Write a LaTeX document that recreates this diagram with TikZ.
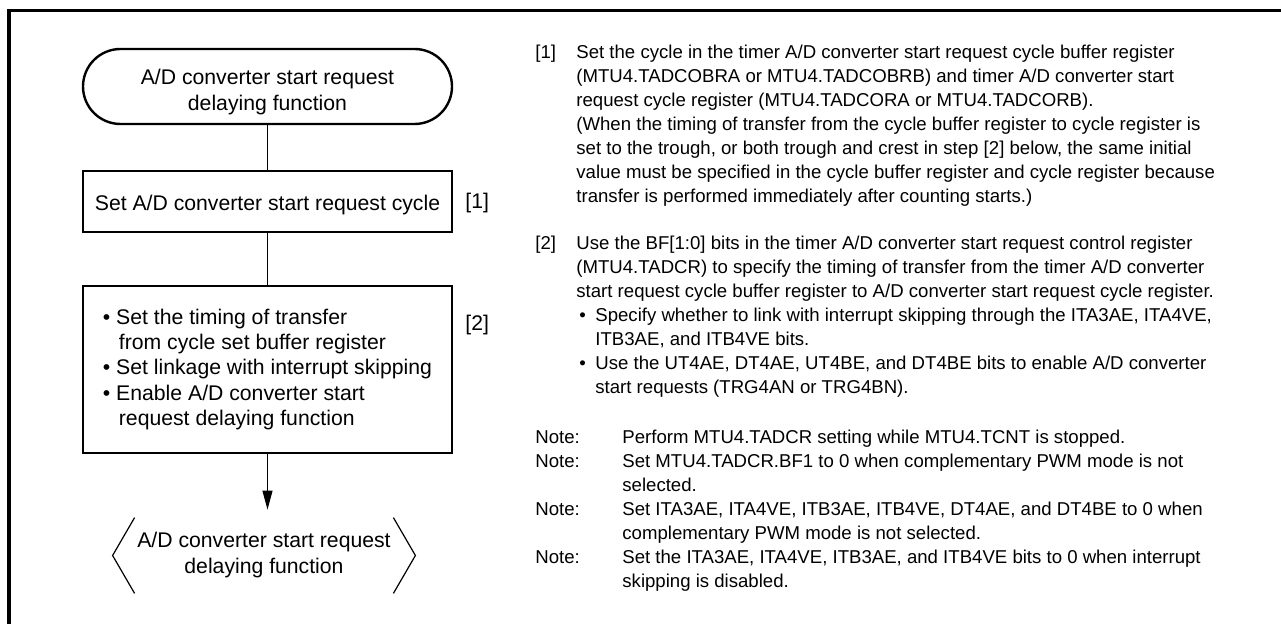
\documentclass[tikz,border=0pt]{standalone}
\usepackage{fontspec}
\setmainfont{Liberation Sans}
\usetikzlibrary{shapes.misc,arrows.meta}
\tikzset{
  x=0.5pt, y=-0.5pt,
  frame/.style={line width=1.6pt},
  term/.style={rounded rectangle, draw, line width=1.2pt, minimum width=184.5pt, minimum height=37.5pt, inner sep=0pt, align=center, font=\fontsize{10.6}{13}\selectfont},
  proc/.style={rectangle, draw, line width=1.2pt, minimum width=184.5pt, inner sep=0pt, font=\fontsize{10.6}{12.7}\selectfont},
  conn/.style={line width=0.6pt},
  arr/.style={conn, -{Triangle[length=9.5pt,width=5pt]}},
  brk/.style={line width=0.6pt},
  txt/.style={anchor=base west, inner sep=0pt, font=\fontsize{9.3}{12}\selectfont},
  ltxt/.style={anchor=base west, inner sep=0pt, font=\fontsize{10.6}{13}\selectfont},
}
\begin{document}
\begin{tikzpicture}
\useasboundingbox (0,0) rectangle (1281,624);
\clip (0,0) rectangle (1281,624);
\fill[white] (0,0) rectangle (1281,624);
\draw[frame] (9,640) -- (9,10.5) -- (1300,10.5);

% flowchart
\node[term] (start) at (267.5,86.5) {\rule{0pt}{13pt}A/D converter start request\\delaying function};
\node[proc, minimum height=30.5pt, text height=10pt, text depth=0.8pt] (box1) at (267.5,201.5) {Set A/D converter start request cycle};
\node[proc, minimum height=83.5pt, align=left] (box2) at (267.5,369.5) {%
• Set the timing of transfer\\
\hspace*{8pt}from cycle set buffer register\\
• Set linkage with interrupt skipping\hspace*{3.5pt}\\
• Enable A/D converter start\\
\hspace*{8pt}request delaying function};
\node[minimum width=129pt, minimum height=37.5pt, inner sep=0pt, align=center, font=\fontsize{10.6}{13}\selectfont] (end) at (264,555.5) {A/D converter start request\\delaying function};
\draw[brk] (end.north west) -- ([xshift=-11pt]end.west) -- (end.south west);
\draw[brk] (end.north east) -- ([xshift=11pt]end.east) -- (end.south east);

\draw[conn] (start.south) -- (box1.north);
\draw[conn] (box1.south) -- (box2.north);
\draw[arr, shorten >=4pt] (box2.south) -- (box2.south |- end.north);

\node[ltxt] (l1) at (465,208.6) {[1]};
\node[ltxt] (l2) at (465,330.6) {[2]};

% right text
\node[txt] (k1) at (535,59) {[1]};
\node[txt] (r1) at (576,59) {Set the cycle in the timer A/D converter start request cycle buffer register};
\node[txt] (r2) at (576,83) {(MTU4.TADCOBRA or MTU4.TADCOBRB) and timer A/D converter start};
\node[txt] (r3) at (576,107) {request cycle register (MTU4.TADCORA or MTU4.TADCORB).};
\node[txt] (r4) at (576,131) {(When the timing of transfer from the cycle buffer register to cycle register is};
\node[txt] (r5) at (576,155) {set to the trough, or both trough and crest in step [2] below, the same initial};
\node[txt] (r6) at (576,179) {value must be specified in the cycle buffer register and cycle register because};
\node[txt] (r7) at (576,203) {transfer is performed immediately after counting starts.)};

\node[txt] (k2) at (535,250) {[2]};
\node[txt] (s1) at (576,250) {Use the BF[1:0] bits in the timer A/D converter start request control register};
\node[txt] (s2) at (576,274) {(MTU4.TADCR) to specify the timing of transfer from the timer A/D converter};
\node[txt] (s3) at (576,298) {start request cycle buffer register to A/D converter start request cycle register.};
\node[txt] (s4) at (579,322) {\makebox[8pt][l]{•}Specify whether to link with interrupt skipping through the ITA3AE, ITA4VE,};
\node[txt] (s5) at (595,346) {ITB3AE, and ITB4VE bits.};
\node[txt] (s6) at (579,370) {\makebox[8pt][l]{•}Use the UT4AE, DT4AE, UT4BE, and DT4BE bits to enable A/D converter};
\node[txt] (s7) at (595,394) {start requests (TRG4AN or TRG4BN).};

\node[txt] (nl1) at (535,444) {Note:};
\node[txt] (n1) at (622,444) {Perform MTU4.TADCR setting while MTU4.TCNT is stopped.};
\node[txt] (nl2) at (535,468) {Note:};
\node[txt] (n2) at (622,468) {Set MTU4.TADCR.BF1 to 0 when complementary PWM mode is not};
\node[txt] (n3) at (622,492) {selected.};
\node[txt] (nl3) at (535,516) {Note:};
\node[txt] (n4) at (622,516) {Set ITA3AE, ITA4VE, ITB3AE, ITB4VE, DT4AE, and DT4BE to 0 when};
\node[txt] (n5) at (622,540) {complementary PWM mode is not selected.};
\node[txt] (nl4) at (535,564) {Note:};
\node[txt] (n6) at (622,564) {Set the ITA3AE, ITA4VE, ITB3AE, and ITB4VE bits to 0 when interrupt};
\node[txt] (n7) at (622,588) {skipping is disabled.};
\end{tikzpicture}
\end{document}
